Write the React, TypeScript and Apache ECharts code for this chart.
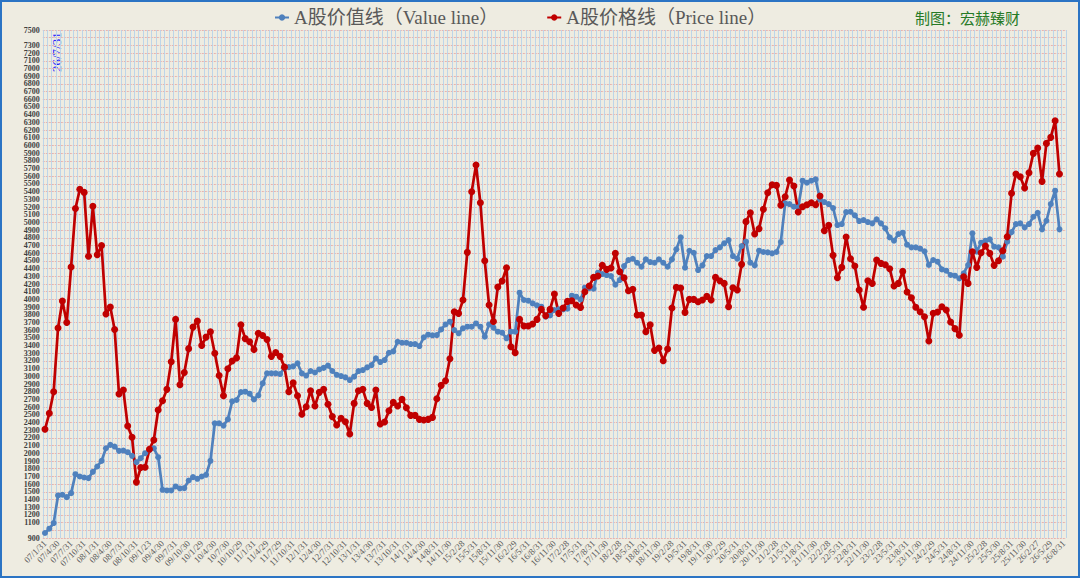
import React, { useEffect, useRef } from "react";
import * as echarts from "echarts";

const categories: string[] = [
  "07/1/31","07/2/28","07/3/31","07/4/30","07/5/31","07/6/30","07/7/31","07/8/31","07/9/30","07/10/31","07/11/30","07/12/31",
  "08/1/31","08/2/29","08/3/31","08/4/30","08/5/31","08/6/30","08/7/31","08/8/31","08/9/30","08/10/31","08/11/30","08/12/31",
  "09/1/23","09/2/27","09/3/31","09/4/30","09/5/31","09/6/30","09/7/31","09/8/31","09/9/30","09/10/30","09/11/30","09/12/31",
  "10/1/29","10/2/26","10/3/31","10/4/30","10/5/31","10/6/30","10/7/30","10/8/31","10/9/30","10/10/29","10/11/30","10/12/31",
  "11/1/31","11/2/28","11/3/31","11/4/29","11/5/31","11/6/30","11/7/29","11/8/31","11/9/30","11/10/31","11/11/30","11/12/31",
  "12/1/31","12/2/29","12/3/31","12/4/30","12/5/31","12/6/30","12/7/31","12/8/31","12/9/30","12/10/31","12/11/30","12/12/31",
  "13/1/31","13/2/28","13/3/31","13/4/30","13/5/31","13/6/30","13/7/31","13/8/31","13/9/30","13/10/31","13/11/30","13/12/31",
  "14/1/31","14/2/28","14/3/31","14/4/30","14/5/30","14/6/30","14/8/31","14/9/30","14/10/31","14/11/30","14/12/31",
  "15/1/31","15/2/28","15/3/31","15/4/30","15/5/31","15/6/30","15/7/31","15/8/31","15/9/30","15/10/31","15/11/30","15/12/31",
  "16/1/31","16/2/29","16/3/31","16/4/30","16/5/31","16/6/30","16/7/31","16/8/31","16/9/30","16/10/31","16/11/30","16/12/31",
  "17/1/31","17/2/28","17/3/31","17/4/30","17/5/31","17/6/30","17/7/31","17/8/31","17/9/30","17/10/31","17/11/30","17/12/31",
  "18/1/31","18/2/28","18/3/31","18/4/30","18/5/31","18/6/30","18/7/31","18/8/31","18/9/30","18/10/31","18/11/30","18/12/31",
  "19/1/31","19/2/28","19/3/31","19/4/30","19/5/31","19/6/30","19/7/31","19/8/31","19/9/30","19/10/31","19/11/30","19/12/31",
  "20/1/31","20/2/29","20/3/31","20/4/30","20/5/31","20/6/30","20/7/31","20/8/31","20/9/30","20/10/31","20/11/30","20/12/31",
  "21/1/31","21/2/28","21/3/31","21/4/30","21/5/31","21/6/30","21/7/31","21/8/31","21/9/30","21/10/31","21/11/30","21/12/31",
  "22/1/31","22/2/28","22/3/31","22/4/30","22/5/31","22/6/30","22/7/31","22/8/31","22/9/30","22/10/31","22/11/30","22/12/31",
  "23/1/31","23/2/28","23/3/31","23/4/30","23/5/31","23/6/30","23/7/31","23/8/31","23/9/30","23/10/31","23/11/30","23/12/31",
  "24/1/31","24/2/29","24/3/31","24/4/30","24/5/31","24/6/30","24/7/31","24/8/31","24/9/30","24/10/31","24/11/30","24/12/31",
  "25/1/31","25/2/28","25/3/31","25/4/30","25/5/30","25/6/30","25/7/31","25/8/31","25/9/30","25/10/31","25/11/30","25/12/31",
  "26/1/30","26/2/27","26/3/31","26/4/30","26/5/29","26/6/30","26/7/31","26/8/31",
];

const valueLine: (number | null)[] = [
  965, 1021, 1094, 1453, 1462, 1431, 1483, 1729, 1699, 1686,
  1678, 1760, 1829, 1902, 2066, 2110, 2088, 2032, 2036, 2015,
  1967, 1885, 1937, 2002, 2045, 2066, 1950, 1526, 1518, 1518,
  1570, 1544, 1548, 1647, 1691, 1669, 1699, 1721, 1902, 2390,
  2390, 2360, 2442, 2676, 2693, 2796, 2801, 2775, 2701, 2753,
  2909, 3040, 3040, 3040, 3030, 3110, 3120, 3130, 3170, 3040,
  3010, 3070, 3050, 3090, 3110, 3140, 3070, 3020, 3004, 2987,
  2952, 2996, 3069, 3082, 3117, 3147, 3234, 3186, 3212, 3307,
  3325, 3450, 3437, 3437, 3420, 3420, 3394, 3507, 3541, 3533,
  3537, 3610, 3675, 3710, 3602, 3559, 3624, 3645, 3645, 3688,
  3645, 3515, 3675, 3632, 3580, 3567, 3494, 3580, 3580, 4087,
  3992, 3983, 3948, 3922, 3905, 3775, 3792, 3862, 3870, 3870,
  3879, 4048, 4035, 4000, 4152, 4147, 4139, 4347, 4329, 4316,
  4303, 4191, 4251, 4433, 4511, 4528, 4476, 4425, 4520, 4485,
  4476, 4520, 4476, 4425, 4520, 4650, 4806, 4412, 4632, 4606,
  4381, 4442, 4563, 4563, 4641, 4676,
  4728, 4771, 4563, 4529, 4693, 4750, 4477, 4442, 4633, 4616,
  4611, 4598, 4616, 4745, 5248, 5239, 5204, 5196, 5542, 5516,
  5542, 5559, 5300, 5265, 5239, 5187, 4966, 4979, 5135, 5139,
  5092, 5018, 5031, 5005, 4988, 5040, 4988, 4923, 4806, 4763,
  4849, 4867, 4711, 4676, 4676, 4659, 4624, 4447, 4512, 4490,
  4390, 4373, 4317, 4308, 4273, 4338, 4447, 4858, 4620, 4737,
  4763, 4780, 4685, 4676, 4555, 4750, 4875, 4979, 4988, 4936,
  4979, 5074, 5126, 4910, 5022, 5239, 5412, 4910, null,
];

const priceLine: (number | null)[] = [
  2313, 2520, 2801, 3628, 3980, 3700, 4420, 5180, 5430, 5390,
  4560, 5210, 4580, 4700, 3810, 3900, 3610, 2771, 2822, 2356,
  2209, 1626, 1816, 1820, 2053, 2174, 2563, 2684, 2831, 3190,
  3740, 2890, 3050, 3360, 3640, 3720, 3400, 3510, 3580, 3300,
  3010, 2749, 3100, 3200, 3240, 3670, 3490, 3450, 3350, 3560,
  3530, 3480, 3260, 3310, 3260, 3120, 2801, 2917, 2749, 2507,
  2606, 2814, 2615, 2792, 2831, 2637, 2477, 2369, 2455, 2411,
  2251, 2649, 2814, 2831, 2649, 2597, 2822, 2381, 2407, 2554,
  2662, 2615, 2701, 2593, 2493, 2493, 2441, 2433, 2441, 2467,
  2710, 2883, 2944, 3229, 3840, 3818, 3991, 4611, 5399, 5745,
  5256, 4502, 3927, 3714, 4160, 4238, 4412, 3385, 3307, 3740,
  3654, 3654, 3680, 3740, 3870, 3788, 3870, 4069, 3818, 3888,
  3974, 3983, 3927, 3896, 4100, 4173, 4286, 4303, 4442, 4390,
  4407, 4598, 4360, 4282, 4113, 4130, 3797, 3797, 3580, 3671,
  3338, 3368, 3203, 3355, 3888, 4156, 4147, 3831, 4000, 4000,
  3970, 3991, 4039, 3991, 4286, 4243,
  4208, 3905, 4152, 4122, 4455, 5010, 5126, 4849, 4919, 5170,
  5386, 5490, 5481, 5222, 5334, 5551, 5473, 5135, 5204, 5230,
  5256, 5230, 5343, 4893, 4962, 4572, 4282, 4416, 4810, 4529,
  4434, 4122, 3897, 4243, 4208, 4512, 4468, 4451, 4399, 4174,
  4208, 4364, 4096, 4022, 3897, 3840, 3775, 3459, 3819, 3836,
  3905, 3862, 3706, 3620, 3533, 4295, 4208, 4620, 4416, 4607,
  4693, 4598, 4442, 4503, 4633, 4815, 5378, 5629, 5594, 5447,
  5646, 5897, 5966, 5533, 6027, 6105, 6321, 5629, null,
];

const seriesNames = ["A股价值线（Value line）", "A股价格线（Price line）"];
const dateNote = "26/7/31";
const creditText = "制图：宏赫臻财";

const SERIF = "'Liberation Serif', 'Noto Sans CJK SC', serif";

export default function App() {
  const ref = useRef<HTMLDivElement>(null);

  useEffect(() => {
    if (!ref.current) return;
    const chart = echarts.init(ref.current, undefined, { renderer: "svg" });
    chart.setOption({
      animation: false,
      backgroundColor: "#eeece1",
      textStyle: { fontFamily: SERIF },
      grid: { left: 42.8, right: 14, top: 30, bottom: 40, containLabel: false },
      legend: {
        left: 269,
        top: 3,
        itemGap: 48,
        itemWidth: 14,
        itemHeight: 8,
        textStyle: { fontSize: 19, color: "#595959", fontFamily: SERIF },
        data: seriesNames,
      },
      xAxis: {
        type: "category",
        data: categories,
        boundaryGap: true,
        axisLine: { show: false },
        axisTick: { show: false },
        axisLabel: {
          interval: 2,
          rotate: 45,
          fontSize: 9,
          color: "#595959",
          fontFamily: SERIF,
          margin: 4,
        },
        splitLine: { show: true, interval: 0, lineStyle: { color: "#b7d2ea", width: 0.9 } },
      },
      yAxis: {
        type: "value",
        min: 900,
        max: 7500,
        interval: 100,
        axisLine: { show: false },
        axisTick: { show: false },
        axisLabel: {
          fontSize: 8,
          fontWeight: "bold",
          color: "#404040",
          fontFamily: SERIF,
          margin: 3,
          showMaxLabel: true,
          showMinLabel: true,
          formatter: (v: number) => String(v),
        },
        splitLine: { show: true, lineStyle: { color: "#e6b3af", width: 1, type: [2, 1] } },
      },
      series: [
        {
          name: seriesNames[0],
          type: "line",
          data: valueLine,
          symbol: "circle",
          symbolSize: 6,
          showAllSymbol: true,
          lineStyle: { color: "#4f81bd", width: 2.7 },
          itemStyle: { color: "#4f81bd" },
        },
        {
          name: seriesNames[1],
          type: "line",
          data: priceLine,
          symbol: "circle",
          symbolSize: 7,
          showAllSymbol: true,
          lineStyle: { color: "#c00000", width: 2.7 },
          itemStyle: { color: "#c00000" },
        },
      ],
      graphic: [
        {
          type: "rect",
          shape: { x: 1, y: 1, width: 1078, height: 576 },
          style: { fill: "none", stroke: "#2b74c4", lineWidth: 2 },
          silent: true,
        },
        {
          type: "text",
          x: 915,
          y: 17,
          style: {
            text: creditText,
            fill: "#267a26",
            fontSize: 15,
            fontFamily: "'Noto Sans CJK SC', sans-serif",
            align: "left",
            verticalAlign: "middle",
          },
        },
        {
          type: "text",
          x: 56,
          y: 72,
          rotation: Math.PI / 2,
          style: {
            text: dateNote,
            fill: "#1a1aff",
            fontSize: 13,
            fontFamily: SERIF,
            align: "left",
            verticalAlign: "middle",
          },
        },
      ],
    });
    return () => chart.dispose();
  }, []);

  return (
    <div
      ref={ref}
      style={{ position: "absolute", left: 0, top: 0, width: 1080, height: 578 }}
    />
  );
}
